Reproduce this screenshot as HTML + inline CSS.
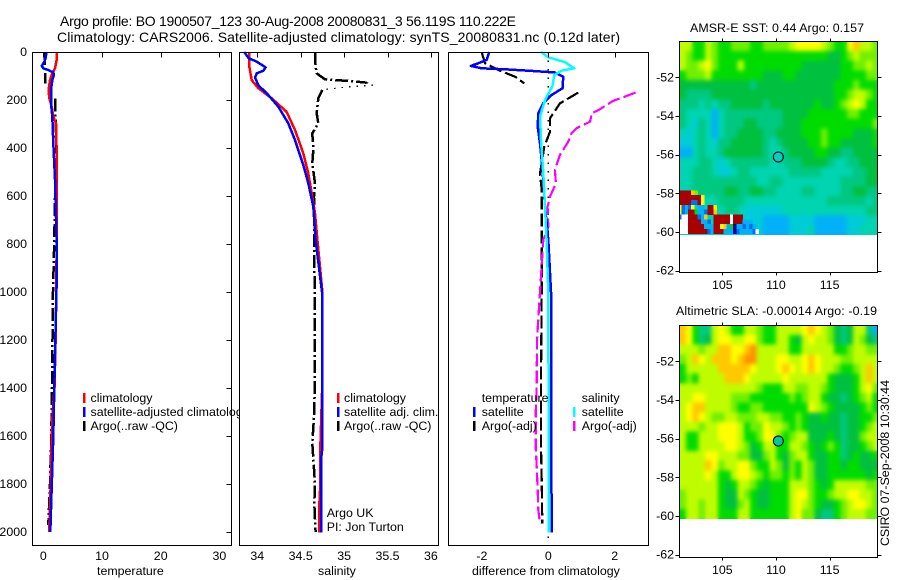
<!DOCTYPE html>
<html lang="en">
<head>
<meta charset="utf-8">
<title>Argo profile 1900507_123</title>
<style>
html,body{margin:0;padding:0;background:#fff;}
svg{display:block;}
text{font-family:"Liberation Sans",Arial,sans-serif;font-size:12.4px;fill:#000;}
.frame{fill:none;stroke:#000;stroke-width:1;shape-rendering:crispEdges;}
.bg{fill:#fff;}
.swatch{stroke-width:2.5;shape-rendering:crispEdges;}
.title{font-size:14px;}
</style>
</head>
<body>
<svg id="figure" xmlns="http://www.w3.org/2000/svg" width="900" height="580" viewBox="0 0 900 580">
  <defs>
    <filter id="field-smooth" x="-5%" y="-5%" width="110%" height="110%" color-interpolation-filters="sRGB">
      <feGaussianBlur in="SourceGraphic" stdDeviation="2.2" result="soft"/>
      <feMerge result="merged"><feMergeNode in="SourceGraphic"/><feMergeNode in="soft"/></feMerge>
      <feComposite in="merged" in2="SourceGraphic" operator="in"/>
    </filter>
  </defs>
  <rect width="900" height="580" fill="#fff"/>
  <text class="title" x="60" y="26" textLength="456" lengthAdjust="spacing">Argo profile: BO 1900507_123 30-Aug-2008 20080831_3 56.119S 110.222E</text>
  <text class="title" x="57" y="42" textLength="563" lengthAdjust="spacing">Climatology: CARS2006. Satellite-adjusted climatology: synTS_20080831.nc (0.12d later)</text>

  <g>
    <rect class="bg" x="32.5" y="52.5" width="199" height="493"/>
    <g id="temp-series"></g>
    <rect class="frame" x="32.5" y="52.5" width="199" height="493"/>
    <g id="temp-axes"></g>
    <text x="97" y="575">temperature</text>
    <g>
      <line class="swatch" x1="84" x2="84" y1="393" y2="403" stroke="#f00"/>
      <text x="90.5" y="402">climatology</text>
      <line class="swatch" x1="84" x2="84" y1="407" y2="417" stroke="#00f"/>
      <text x="90.5" y="416">satellite-adjusted climatology</text>
      <line class="swatch" x1="84" x2="84" y1="421" y2="431" stroke="#000"/>
      <text x="90.5" y="430">Argo(..raw -QC)</text>
    </g>
  </g>

  <g>
    <rect class="bg" x="239.5" y="52.5" width="199" height="493"/>
    <g id="sal-series"></g>
    <rect class="frame" x="239.5" y="52.5" width="199" height="493"/>
    <g id="sal-axes"></g>
    <text x="318" y="575">salinity</text>
    <g>
      <line class="swatch" x1="338" x2="338" y1="393" y2="403" stroke="#f00"/>
      <text x="344" y="402">climatology</text>
      <line class="swatch" x1="338" x2="338" y1="407" y2="417" stroke="#00f"/>
      <text x="344" y="416">satellite adj. clim.</text>
      <line class="swatch" x1="338" x2="338" y1="421" y2="431" stroke="#000"/>
      <text x="344" y="430">Argo(..raw -QC)</text>
    </g>
    <text x="326.7" y="517">Argo UK</text>
    <text x="326.7" y="531">PI: Jon Turton</text>
  </g>

  <g>
    <rect class="bg" x="448.5" y="52.5" width="200" height="493"/>
    <g id="diff-series"></g>
    <rect class="frame" x="448.5" y="52.5" width="200" height="493"/>
    <g id="diff-axes"></g>
    <text x="472" y="575">difference from climatology</text>
    <g>
      <text x="481.7" y="402">temperature</text>
      <line class="swatch" x1="474" x2="474" y1="407" y2="417" stroke="#00f"/>
      <text x="481.7" y="416">satellite</text>
      <line class="swatch" x1="474" x2="474" y1="421" y2="431" stroke="#000"/>
      <text x="481.7" y="430">Argo(-adj)</text>
      <text x="581.7" y="402">salinity</text>
      <line class="swatch" x1="574" x2="574" y1="407" y2="417" stroke="#0ff"/>
      <text x="581.7" y="416">satellite</text>
      <line class="swatch" x1="574" x2="574" y1="421" y2="431" stroke="#f0f"/>
      <text x="581.7" y="430">Argo(-adj)</text>
    </g>
  </g>

  <g>
    <text x="690" y="32" textLength="174" lengthAdjust="spacing">AMSR-E SST: 0.44 Argo: 0.157</text>
    <g id="sst-cells" filter="url(#field-smooth)"></g>
    <g id="sst-edge-cells"></g>
    <g id="sst-axes"></g>
  </g>

  <g>
    <text x="676" y="315" textLength="201" lengthAdjust="spacing">Altimetric SLA: -0.00014 Argo: -0.19</text>
    <g id="sla-cells" filter="url(#field-smooth)"></g>
    <g id="sla-axes"></g>
  </g>

  <text transform="translate(889 546) rotate(-90)" textLength="166" lengthAdjust="spacing">CSIRO 07-Sep-2008 10:30:44</text>
</svg>

<script>
// ---------- profile data ----------
const depthTicks = [0,200,400,600,800,1000,1200,1400,1600,1800,2000];
const tempTicks = [0,10,20,30];
const salTicks = [34,34.5,35,35.5,36];
const salTickLabels = ['34','34.5','35','35.5','36'];
const diffTicks = [-2,0,2];

const tempClimDepth = [0,33,68,82,96,117,158,193,228,269,297,422,783,1000,1200,1400,1500,1600,1800,2000];
const tempClimValues = [2.28,2.28,1.99,1.71,1.43,1.14,0.91,1.03,1.43,1.71,2.16,2.28,2.28,2.2,2.1,1.9,1.6,1.43,1.26,1.0];
const tempSatDepth = [0,26,40,58,68,75,85,96,117,158,214,269,380,530,800,1000,1200,1400,1600,1800,2000];
const tempSatValues = [0.57,0.40,0.18,-0.28,0,0.86,1.71,1.82,1.54,1.31,1.31,1.54,1.71,2.0,2.28,2.25,2.05,1.88,1.71,1.45,1.2];
const tempArgoDepth = [0,60,131,null,193,367,464,603,783,1000,1400,1600,1800,1970];
const tempArgoValues = [0.18,0.29,0.29,null,1.99,2.16,2.28,1.99,1.88,1.65,1.48,1.37,1.14,0.86];

const salClimDepth = [0,61,117,151,193,249,325,422,506,603,672,783,1000,1367,1651,1804,1880,2003];
const salClimValues = [33.904,33.908,33.935,34.012,34.166,34.338,34.434,34.530,34.588,34.634,34.665,34.692,34.75,34.75,34.726,34.726,34.715,34.715];
const salSatDepth = [0,26,40,64,78,89,106,138,179,228,297,367,471,547,644,783,1000,1367,1651,1700,2003];
const salSatValues = [33.85,33.90,33.993,34.096,34.069,33.993,33.974,34.012,34.127,34.242,34.357,34.434,34.530,34.588,34.645,34.672,34.745,34.749,34.749,34.734,34.734];
const salArgoDepth = [0,61,89,114,117,121,128,null,158,193,256,297,339,408,464,547,603,783,1000,1367,1520,1630,1800,1880,2000];
const salArgoValues = [34.665,34.672,34.684,34.780,34.895,35.068,35.261,null,34.749,34.703,34.684,34.703,34.634,34.645,34.634,34.665,34.653,34.657,34.66,34.665,34.653,34.634,34.665,34.657,34.672];
const salRawDepth = [128,138,144,156,158];
const salRawValues = [35.261,35.337,35.087,34.780,34.749];

const diffTempSatDepth = [0,33,47,58,68,72,78,85,103,151,179,214,256,311,381,478,644,783,1000,2003];
const diffTempSatValues = [-1.776,-1.856,-2.11,-2.33,-2.01,-1.304,-0.602,0.18,0.45,0.43,0.10,-0.15,-0.30,-0.32,-0.25,-0.18,-0.1,0,0.08,0.10];
const diffSalSatDepth = [0,22,42,68,78,96,144,200,269,367,506,644,783,1000,2003];
const diffSalSatValues = [-0.22,0,0.50,0.78,0.40,0.18,0.12,-0.1,-0.25,-0.22,-0.15,-0.1,-0.05,0,0.02];
const diffTempArgoDepth = [0,47,75,103,131,null,169,214,276,332,394,506,575,783,1000,1367,1506,1645,1783,1964];
const diffTempArgoValues = [-2.01,-1.907,-1.505,-1.003,-0.722,null,0.90,0.35,0.05,0.05,-0.12,-0.25,-0.2,-0.2,-0.2,-0.22,-0.22,-0.22,-0.2,-0.18];
const diffSalArgoDepth = [169,183,203,242,256,290,318,339,374,429,492,547,603,644,728,783,1000,1200,1388,1506,1645,1728,1825,1908,1964];
const diffSalArgoValues = [2.63,2.36,1.96,1.51,1.31,1.26,0.85,0.70,0.60,0.35,0.20,0.23,0.05,-0.02,0,-0.15,-0.25,-0.34,-0.35,-0.38,-0.38,-0.35,-0.32,-0.30,-0.25];
const diffZeroDepth = [0,2030];
const diffZeroValues = [0,0];

// ---------- map data (colour level per grid cell) ----------
const mapLonTicks = [105,110,115];
const mapLatTicks = [-52,-54,-56,-58,-60,-62];
const floatLon = 110.22;
const floatLat = -56.12;

const sstLevels = [
[8,8,6,6,8,7,6,6,7,7,7,6,6,7,7,7,7,8,9,9,9,9,8,7,6,6,9,10,8,8,7],
[8,7,6,6,8,7,6,6,6,6,6,6,6,6,6,6,6,6,6,6,6,6,6,5,5,6,7,8,7,7,7],
[8,7,7,8,9,7,6,6,6,8,6,6,6,6,6,6,6,6,6,5,5,5,5,5,5,6,6,7,7,8,7],
[6,7,7,7,8,6,6,6,6,6,6,6,6,5,5,5,6,6,5,5,5,5,5,5,5,6,6,6,6,7,7],
[5,5,5,5,5,5,5,5,5,5,5,4,5,5,5,5,5,5,5,5,5,5,5,5,6,6,6,7,6,6,6],
[5,4,4,4,4,5,5,5,5,5,5,5,5,5,5,5,5,5,5,5,5,5,5,5,6,6,7,8,8,7,6],
[4,4,4,3,4,3,4,4,5,5,5,5,5,4,5,5,5,5,5,5,5,6,5,5,6,7,8,9,8,6,6],
[4,3,3,3,3,1,3,4,4,4,4,4,4,4,4,4,5,5,5,5,6,6,6,6,6,6,7,7,6,6,6],
[4,3,2,4,3,1,3,4,4,4,5,5,4,4,4,4,5,5,5,6,6,6,6,6,6,6,6,6,6,6,7],
[3,2,3,4,3,1,3,4,4,5,5,5,5,4,4,5,5,5,5,6,6,6,7,6,6,6,6,5,5,5,6],
[2,2,3,4,3,2,4,4,5,5,5,5,5,4,3,4,5,5,5,5,6,6,7,6,6,5,5,5,5,5,6],
[1,1,3,4,3,3,4,5,5,5,5,5,5,4,3,3,4,5,5,5,5,6,6,5,5,4,4,5,5,5,5],
[3,3,3,4,4,3,2,3,4,4,4,4,4,4,3,3,4,4,4,5,5,5,5,4,3,3,4,4,5,5,5],
[3,3,4,4,4,3,2,2,3,4,4,3,3,3,3,3,3,4,4,4,4,4,3,3,3,3,3,4,4,5,5],
[3,3,4,4,4,4,4,4,4,4,4,4,3,3,4,4,3,3,3,3,3,3,3,3,3,4,4,4,4,5,5],
[3,3,4,4,4,4,4,5,5,4,4,5,5,4,4,3,3,3,3,4,4,3,3,3,3,4,4,5,5,4,4],
[3,3,3,3,3,3,4,4,4,4,3,3,3,3,3,3,3,3,3,3,3,3,3,4,4,4,4,4,4,3,4],
[3,3,3,3,3,3,3,4,4,3,2,2,2,2,2,2,3,3,3,3,3,3,3,3,3,3,3,3,3,4,4],
[3,3,3,3,3,3,3,2,2,2,2,2,2,1,1,1,1,2,2,2,2,1,1,1,1,1,2,2,2,3,3],
[3,3,3,3,3,3,3,2,2,2,2,2,2,1,1,1,1,2,2,2,3,1,1,1,1,1,2,2,3,3,3]
];
const n = null;
const sstEdgeLevels = [
[12,12,12,12,10,7],
[12,12,12,12,12,12,12,9],
[12,12,12,12,0,0,12,9],
[9,0,1,0,9,n,1,1,n,12,12,9],
[9,0,1,12,12,6,1,1,0,12,12,10],
[0,14,14,12,12,12,0,1,10,n,n,12,12,12,12,12,14,12,12,12],
[14,14,14,12,12,12,12,1,1,0,n,12,12,12,12,12,14,12,12,12,1,1,1],
[14,14,14,12,12,12,12,12,1,1,1,12,12,9,10,1,6,13,1,1,0,1,0,1],
[14,14,14,12,12,12,12,12,12,0,1,12,12,12,1,1,1,13,0,1,1,1,1,0,14]
];
const slaLevels = [
[10,9,6,4,4,8,9,8,6,6,8,8,7,6,6,8,8,8,8,9,10,9,8,7,5,4,5,8,8,4,1],
[10,9,6,4,5,8,9,9,8,8,9,9,7,6,6,8,8,6,5,8,9,8,8,7,5,4,5,8,7,5,4],
[8,8,8,7,8,8,10,10,9,9,10,11,8,8,8,8,8,6,6,8,8,8,8,8,6,6,7,8,8,7,7],
[7,8,10,9,8,10,10,10,9,10,11,11,8,8,8,9,9,8,8,9,10,9,8,8,8,7,7,8,8,8,8],
[6,8,8,8,8,8,10,10,10,10,10,9,8,8,8,9,10,9,8,9,10,9,8,8,7,6,6,7,8,10,8],
[6,7,6,8,8,8,8,10,10,10,9,8,8,8,8,8,9,8,8,8,8,8,8,6,5,5,5,6,8,10,8],
[8,8,8,8,8,8,8,8,8,8,8,8,7,6,6,6,8,8,7,7,8,8,7,6,5,5,5,6,8,9,7],
[8,8,9,9,8,8,8,8,7,7,7,6,6,6,6,6,6,7,6,7,8,8,6,5,5,4,5,6,7,8,6],
[8,9,10,10,8,8,8,8,7,6,6,7,7,6,6,6,6,6,6,6,9,8,7,6,5,5,5,5,6,7,6],
[8,9,10,9,8,7,7,8,8,7,7,7,8,8,7,7,6,6,7,6,5,5,6,5,5,4,5,5,6,6,7],
[8,8,8,7,8,8,9,9,9,8,6,7,7,9,8,8,7,6,7,6,5,5,5,5,5,4,5,5,6,7,8],
[8,6,6,8,8,8,9,9,9,8,6,6,7,9,9,7,6,7,8,8,5,5,5,6,5,4,5,5,7,8,8],
[8,6,6,8,8,8,8,9,9,8,7,5,6,8,8,6,6,8,8,7,6,5,6,7,6,4,5,5,6,7,8],
[8,8,8,8,9,9,8,8,8,7,7,5,5,7,8,6,5,7,8,8,6,5,5,6,6,4,5,6,5,5,6],
[8,8,8,8,10,9,7,8,8,9,9,7,6,6,8,7,5,7,6,8,7,5,5,6,6,5,6,6,5,5,5],
[8,8,8,8,9,8,6,6,8,9,9,8,7,6,7,7,6,7,6,8,7,5,5,6,6,6,6,6,6,5,6],
[8,8,8,8,8,8,6,5,6,8,8,7,6,5,6,6,6,8,8,8,7,6,5,6,8,8,8,8,8,7,7],
[7,8,8,8,8,8,6,5,5,8,7,6,5,5,6,6,6,8,9,9,7,6,6,7,8,8,9,9,8,8,7],
[7,8,8,7,8,8,6,5,5,7,8,6,5,5,6,6,6,8,9,8,7,6,5,5,6,7,8,9,9,8,7],
[6,8,8,7,8,8,6,6,6,8,8,6,6,6,6,6,6,8,9,7,7,5,4,4,6,7,8,8,8,7,7]
];

// ---------- scales and style ----------
const SVGNS = 'http://www.w3.org/2000/svg';
const palette = ['#0070f0','#00b0f8','#00ccd8','#00d4b0','#00c880','#00c040','#00dc00','#70f000','#c0fc00','#ffff00','#ffc800','#ff9000','#a80000','#0000a8','#ffffff'];
const yDepth = p => 52 + 0.24 * p;
const xTemp = t => 43.3 + 5.87 * t;
const xSal = s => 257.3 + 86.8 * (s - 34);
const xDiff = d => 548.3 + 33.2 * d;
const xLon = lon => 722.3 + (lon - 105) * 10.73;
const yLatSst = lat => 77.3 + (-52 - lat) * 19.33;
const yLatSla = lat => 361.3 + (-52 - lat) * 19.33;

function make(tag, parent, attrs) {
  const el = document.createElementNS(SVGNS, tag);
  for (const k in attrs) el.setAttribute(k, attrs[k]);
  parent.appendChild(el);
  return el;
}

function drawSeries(groupId, name, depths, values, xScale, color, width, dash) {
  const group = document.getElementById(groupId);
  let runs = [[]];
  depths.forEach((p, i) => {
    if (p === null || values[i] === null) { runs.push([]); return; }
    runs[runs.length - 1].push(xScale(values[i]).toFixed(1) + ',' + yDepth(p).toFixed(1));
  });
  runs.filter(r => r.length > 1).forEach(r => {
    const line = make('polyline', group, {points: r.join(' '), fill: 'none', stroke: color, 'stroke-width': width, 'stroke-linejoin': 'round', 'shape-rendering': 'crispEdges'});
    if (dash) line.setAttribute('stroke-dasharray', dash);
    
    
  });
}

function tickLine(parent, x1, y1, x2, y2) {
  const t = make('line', parent, {x1: x1, y1: y1, x2: x2, y2: y2, stroke: '#000', 'stroke-width': 1, 'shape-rendering': 'crispEdges'});
  
  
}

function tickText(parent, x, y, label, anchor) {
  const t = make('text', parent, {x: x, y: y, 'text-anchor': anchor});
  t.textContent = label;
  
  
}

// ---------- profile panels ----------
drawSeries('temp-series', 'temperature-argo', tempArgoDepth, tempArgoValues, xTemp, '#000', 2.5, '13 3 2 3');
drawSeries('temp-series', 'temperature-climatology', tempClimDepth, tempClimValues, xTemp, '#f00', 2.5);
drawSeries('temp-series', 'temperature-satellite-adjusted', tempSatDepth, tempSatValues, xTemp, '#00f', 2.5);

drawSeries('sal-series', 'salinity-argo-raw', salRawDepth, salRawValues, xSal, '#000', 1.2, '1.5 6');
drawSeries('sal-series', 'salinity-argo-qc', salArgoDepth, salArgoValues, xSal, '#000', 2.5, '13 3 2 3');
drawSeries('sal-series', 'salinity-climatology', salClimDepth, salClimValues, xSal, '#f00', 2.5);
drawSeries('sal-series', 'salinity-satellite-adjusted', salSatDepth, salSatValues, xSal, '#00f', 2.5);

drawSeries('diff-series', 'difference-zero-line', diffZeroDepth, diffZeroValues, xDiff, '#000', 1.2, '1.5 7');
drawSeries('diff-series', 'difference-temperature-argo', diffTempArgoDepth, diffTempArgoValues, xDiff, '#000', 2.2, '13 4');
drawSeries('diff-series', 'difference-salinity-argo', diffSalArgoDepth, diffSalArgoValues, xDiff, '#f0f', 2.2, '13 4');
drawSeries('diff-series', 'difference-temperature-satellite', diffTempSatDepth, diffTempSatValues, xDiff, '#00f', 2.5);
drawSeries('diff-series', 'difference-salinity-satellite', diffSalSatDepth, diffSalSatValues, xDiff, '#0ff', 2.5);

const tempAxes = document.getElementById('temp-axes');
depthTicks.forEach(p => {
  tickLine(tempAxes, 226.5, Math.round(yDepth(p)) + 0.5, 231.5, Math.round(yDepth(p)) + 0.5);
  tickText(tempAxes, 27, yDepth(p) + 4, String(p), 'end');
});
tempTicks.forEach(t => {
  tickLine(tempAxes, Math.round(xTemp(t)) + 0.5, 52.5, Math.round(xTemp(t)) + 0.5, 57.5);
  tickText(tempAxes, xTemp(t), 560, String(t), 'middle');
});
const salAxes = document.getElementById('sal-axes');
salTicks.forEach((s, i) => {
  tickLine(salAxes, Math.round(xSal(s)) + 0.5, 52.5, Math.round(xSal(s)) + 0.5, 57.5);
  tickText(salAxes, xSal(s), 560, salTickLabels[i], 'middle');
});
const diffAxes = document.getElementById('diff-axes');
diffTicks.forEach(d => {
  tickLine(diffAxes, Math.round(xDiff(d)) + 0.5, 52.5, Math.round(xDiff(d)) + 0.5, 57.5);
  tickText(diffAxes, xDiff(d), 560, String(d), 'middle');
});

// ---------- maps ----------
function drawCells(group, levels, lon0, lat0, dLon, dLat, yLat, name) {
  levels.forEach((row, r) => {
    row.forEach((level, c) => {
      if (level === null) return;
      const x0 = Math.max(xLon(lon0 + c * dLon), xLon(101));
      const x1 = Math.min(xLon(lon0 + (c + 1) * dLon), xLon(119.45));
      const cell = make('rect', group, {x: x0.toFixed(2), y: yLat(lat0 - r * dLat).toFixed(2), width: (x1 - x0 + 0.3).toFixed(2), height: (dLat * 19.33 + 0.3).toFixed(2), fill: palette[level], 'shape-rendering': 'crispEdges'});
      
      
    });
  });
}

function drawMapAxes(group, yLat, top, bottom, labelBaseline, markerFill) {
  const left = 679.5, right = 877.5;
  const frame = make('rect', group, {class: 'frame', x: left, y: top, width: right - left, height: bottom - top});
  
  
  mapLonTicks.forEach(lon => {
    const x = Math.round(xLon(lon)) + 0.5;
    tickLine(group, x, top - 3, x, top);
    tickLine(group, x, bottom, x, bottom + 3);
    tickText(group, xLon(lon), labelBaseline, String(lon), 'middle');
  });
  mapLatTicks.forEach(lat => {
    const y = Math.round(yLat(lat)) + 0.5;
    tickLine(group, left - 4, y, left, y);
    tickLine(group, right, y, right + 4, y);
    tickText(group, 674, yLat(lat) + 4, String(lat), 'end');
  });
  const marker = make('circle', group, {cx: xLon(floatLon), cy: yLat(floatLat), r: 5, fill: markerFill, stroke: '#000', 'stroke-width': 1});
  
  
}

drawCells(document.getElementById('sst-cells'), sstLevels, 101, -50.14, 0.6, 0.5, yLatSst, 'sst-cell');
drawCells(document.getElementById('sst-edge-cells'), sstEdgeLevels, 100.9, -57.85, 0.3, 0.25, yLatSst, 'sst-edge-cell');
drawMapAxes(document.getElementById('sst-axes'), yLatSst, 41.5, 272.5, 289, '#00d0c0');

drawCells(document.getElementById('sla-cells'), slaLevels, 101, -50.14, 0.6, 0.5, yLatSla, 'sla-cell');
drawMapAxes(document.getElementById('sla-axes'), yLatSla, 325.5, 557.5, 574, '#00c8a0');
</script>
</body>
</html>
